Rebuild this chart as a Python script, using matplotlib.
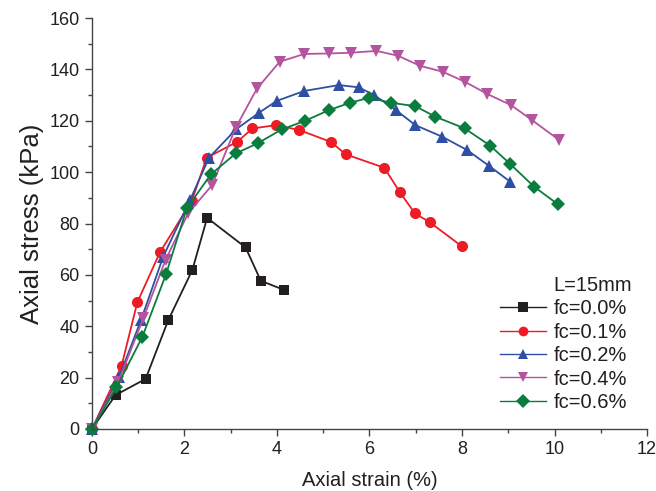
import matplotlib
matplotlib.use("Agg")
import matplotlib.pyplot as plt
from matplotlib.ticker import MultipleLocator
from matplotlib.lines import Line2D

plt.rcParams['font.family'] = ['Liberation Sans', 'DejaVu Sans']

x00 = [0, 0.51, 1.16, 1.65, 2.17, 2.49, 3.32, 3.65, 4.16]
y00 = [0, 13.2, 19.5, 42.4, 61.9, 82.2, 70.7, 57.7, 54.1]

x01 = [0, 0.64, 0.98, 1.47, 2.16, 2.48, 3.14, 3.47, 3.98, 4.48, 5.16, 5.49, 6.32, 6.66, 6.98, 7.31, 7.99]
y01 = [0, 24.6, 49.3, 68.8, 88.9, 105.6, 111.8, 117.0, 118.3, 116.4, 111.8, 106.9, 101.7, 92.1, 84.0, 80.4, 71.2]

x02 = [0, 0.59, 1.06, 1.54, 2.12, 2.53, 3.11, 3.61, 3.99, 4.59, 5.34, 5.77, 6.10, 6.57, 6.99, 7.57, 8.11, 8.58, 9.04]
y02 = [0, 20.4, 42.4, 67.1, 89.1, 105.6, 116.6, 123.1, 127.7, 131.6, 133.9, 133.0, 130.0, 124.2, 118.3, 113.8, 108.6, 102.5, 96.3]

x04 = [0, 0.57, 1.11, 1.59, 2.08, 2.60, 3.11, 3.57, 4.06, 4.59, 5.13, 5.61, 6.15, 6.62, 7.09, 7.58, 8.06, 8.55, 9.06, 9.51, 10.10]
y04 = [0, 18.4, 43.1, 65.8, 84.0, 95.0, 117.4, 132.6, 143.0, 146.0, 146.2, 146.5, 147.2, 145.3, 141.4, 139.1, 135.2, 130.4, 126.1, 120.3, 112.5]

x06 = [0, 0.53, 1.09, 1.60, 2.05, 2.57, 3.11, 3.58, 4.10, 4.61, 5.13, 5.58, 6.00, 6.46, 6.99, 7.42, 8.06, 8.61, 9.04, 9.56, 10.08]
y06 = [0, 16.2, 35.9, 60.2, 85.9, 99.1, 107.3, 111.2, 116.6, 120.0, 124.2, 127.0, 129.0, 127.0, 125.7, 121.6, 117.0, 110.3, 103.2, 94.3, 87.4]

labels = ['fc=0.0%', 'fc=0.1%', 'fc=0.2%', 'fc=0.4%', 'fc=0.6%']
legend_title = 'L=15mm'

fig = plt.figure(figsize=(6.56, 4.91), dpi=100)
ax = fig.add_axes([0.1402, 0.1263, 0.8461, 0.837])

series = [
    (x00, y00, '#231f20', 's', 7),
    (x01, y01, '#ed1c24', 'o', 8),
    (x02, y02, '#2e4fa3', '^', 8.5),
    (x04, y04, '#b5549e', 'v', 8.5),
    (x06, y06, '#0a7c3e', 'D', 7.5),
]
handles = [Line2D([], [], linestyle='none', marker='none')]
for (xs, ys, c, m, ms), lab in zip(series, labels):
    ln, = ax.plot(xs, ys, color=c, marker=m, markersize=ms, linewidth=1.3, label=lab,
                  markeredgewidth=0, clip_on=False)
    handles.append(ln)

ax.set_xlim(0, 12)
ax.set_ylim(0, 160)
ax.xaxis.set_major_locator(MultipleLocator(2))
ax.xaxis.set_minor_locator(MultipleLocator(1))
ax.yaxis.set_major_locator(MultipleLocator(20))
ax.yaxis.set_minor_locator(MultipleLocator(10))
for s in ['top', 'right']:
    ax.spines[s].set_visible(False)
for s in ['left', 'bottom']:
    ax.spines[s].set_color('#444444')
    ax.spines[s].set_linewidth(1.0)
ax.tick_params(which='major', direction='out', length=5, width=1, labelsize=13, colors='#444444',
               labelcolor='#231f20', pad=4)
ax.tick_params(which='minor', direction='out', length=3, width=1, colors='#444444')
ax.set_xlabel('Axial strain (%)', fontsize=14.5, color='#231f20', labelpad=9)
ax.set_ylabel('Axial stress (kPa)', fontsize=18.5, color='#231f20', labelpad=3.5)

leg = ax.legend(handles, [legend_title] + labels, loc='lower right',
                bbox_to_anchor=(0.995, 0.012), frameon=False, fontsize=14.5,
                handlelength=2.3, labelspacing=0.22, handletextpad=0.35,
                borderaxespad=0.2)
for line in leg.get_lines():
    line.set_linewidth(1.0)
    line.set_markersize(7)
for t in leg.get_texts():
    t.set_color('#231f20')

fig.savefig('out.png', dpi=100)
